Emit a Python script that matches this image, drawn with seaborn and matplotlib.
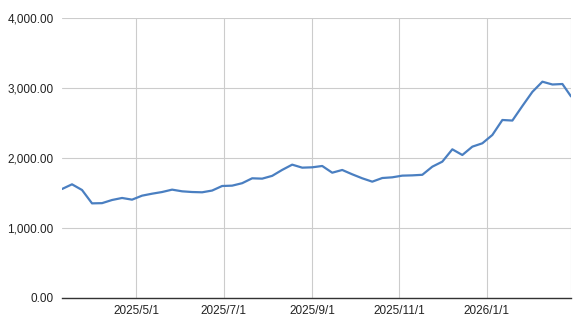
import numpy as np
import pandas as pd
import matplotlib
matplotlib.use("Agg")
import matplotlib.pyplot as plt
import matplotlib.dates as mdates
from matplotlib.ticker import FuncFormatter
import seaborn as sns

# Weekly dates (last point a partial week)
weekly_dates = list(pd.date_range("2025-03-10", periods=51, freq="7D"))
last_date = pd.Timestamp("2026-03-01")
dates = weekly_dates + [last_date]

values = [1557, 1624, 1543, 1352, 1355, 1400, 1429, 1405, 1462, 1490,
          1514, 1548, 1524, 1514, 1510, 1535, 1600, 1605, 1640, 1710,
          1705, 1745, 1830, 1905, 1862, 1867, 1886, 1790, 1829, 1767,
          1710, 1662, 1714, 1724, 1748, 1752, 1760, 1876, 1948, 2124,
          2043, 2162, 2210, 2329, 2543, 2535, 2743, 2945, 3090, 3050,
          3057, 2880]

tick_dates = ["2025-05-01", "2025-07-01", "2025-09-01", "2025-11-01", "2026-01-01", "2026-03-01"]
tick_labels = ["2025/5/1", "2025/7/1", "2025/9/1", "2025/11/1", "2026/1/1", ""]
y_ticks = [0, 1000, 2000, 3000, 4000]

df = pd.DataFrame({"date": dates, "value": values})

sns.set_style("white")
plt.rcParams["font.family"] = ["Liberation Sans", "DejaVu Sans"]

fig = plt.figure(figsize=(5.82, 3.23), dpi=100)
ax = fig.add_axes([62/582, 1-298/323, (571-62)/582, (298-18)/323])

sns.lineplot(data=df, x="date", y="value", ax=ax, color="#4a7fc1", linewidth=1.6)

ax.set_xlim(dates[0], dates[-1])
ax.set_ylim(0, 4000)
ax.set_yticks(y_ticks)
ax.yaxis.set_major_formatter(FuncFormatter(lambda v, p: f"{v:,.2f}"))
ax.set_xticks([pd.Timestamp(d) for d in tick_dates])
ax.set_xticklabels(tick_labels)

ax.grid(True, color="#cccccc", linewidth=0.8)
ax.set_axisbelow(True)
for side in ["top", "right", "left"]:
    ax.spines[side].set_visible(False)
ax.spines["bottom"].set_color("#333333")
ax.spines["bottom"].set_linewidth(1.0)
ax.tick_params(axis="both", length=0, labelsize=8.5, colors="#222222")
ax.tick_params(axis="y", pad=6)
ax.tick_params(axis="x", pad=5)
ax.set_xlabel("")
ax.set_ylabel("")

fig.savefig("out.png", dpi=100)
